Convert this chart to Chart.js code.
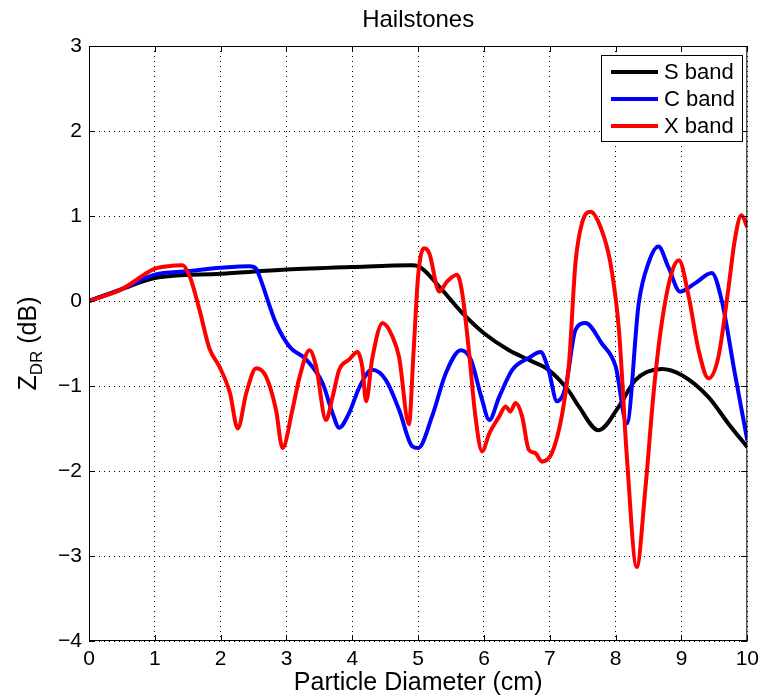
<!DOCTYPE html>
<html>
<head>
<meta charset="utf-8">
<script src="https://cdn.jsdelivr.net/npm/chart.js@4.4.1/dist/chart.umd.min.js"></script>
<style>
  html, body { margin: 0; padding: 0; background: #fff; }
  canvas { display: block; }
</style>
</head>
<body>
<canvas id="zdr" width="765" height="698"></canvas>
<script>
// ===== 資料 =====
const TITLE = 'Hailstones';
const X_LABEL = 'Particle Diameter (cm)';
const LABELS = ['S band', 'C band', 'X band'];
const COLORS = ['#000000', '#0000ff', '#ff0000'];

// S band
const sX = [0, 0.5, 1.0, 2.0, 3.0, 4.0, 4.9, 5.0, 5.32, 5.67, 6.0, 6.38, 6.73, 6.98, 7.29, 7.44, 7.74, 8.05, 8.3, 8.7, 9.0, 9.41, 9.71, 10];
const sY = [0, 0.14, 0.27, 0.32, 0.37, 0.40, 0.42, 0.41, 0.17, -0.14, -0.38, -0.58, -0.71, -0.81, -1.06, -1.24, -1.52, -1.24, -0.93, -0.80, -0.87, -1.13, -1.44, -1.72];

// C band
const cX = [0, 0.5, 1.0, 1.5, 2.0, 2.44, 2.54, 2.59, 2.84, 3.05, 3.3, 3.55, 3.7, 3.8, 3.95, 4.11, 4.3, 4.51, 4.71, 4.91, 5.0, 5.21, 5.42, 5.65, 5.8, 5.97, 6.08, 6.23, 6.43, 6.68, 6.86, 6.98, 7.11, 7.24, 7.39, 7.54, 7.79, 8.0, 8.17, 8.35, 8.5, 8.65, 8.8, 8.98, 9.21, 9.46, 9.61, 9.81, 10];
const cY = [0, 0.14, 0.31, 0.35, 0.39, 0.41, 0.38, 0.29, -0.26, -0.54, -0.69, -0.97, -1.32, -1.49, -1.32, -1.01, -0.81, -0.93, -1.28, -1.71, -1.73, -1.36, -0.85, -0.58, -0.69, -1.16, -1.40, -1.13, -0.81, -0.67, -0.60, -0.81, -1.18, -1.01, -0.34, -0.26, -0.50, -0.77, -1.44, -0.03, 0.45, 0.64, 0.40, 0.11, 0.21, 0.33, 0.01, -0.85, -1.64];

// X band
const xX = [0, 0.5, 1.0, 1.2, 1.42, 1.53, 1.68, 1.83, 1.98, 2.14, 2.26, 2.39, 2.54, 2.69, 2.84, 2.94, 3.09, 3.2, 3.35, 3.45, 3.6, 3.7, 3.8, 3.95, 4.08, 4.15, 4.21, 4.3, 4.46, 4.61, 4.71, 4.86, 4.93, 5.0, 5.09, 5.17, 5.32, 5.44, 5.59, 5.67, 5.77, 5.87, 5.97, 6.08, 6.23, 6.33, 6.4, 6.48, 6.58, 6.68, 6.78, 6.88, 7.03, 7.18, 7.29, 7.39, 7.49, 7.62, 7.77, 7.92, 8.05, 8.17, 8.32, 8.45, 8.58, 8.7, 8.85, 8.96, 9.11, 9.26, 9.41, 9.56, 9.71, 9.81, 9.91, 10];
const xY = [0, 0.14, 0.38, 0.41, 0.42, 0.29, -0.11, -0.56, -0.77, -1.08, -1.50, -1.08, -0.79, -0.89, -1.28, -1.73, -1.28, -0.89, -0.58, -0.77, -1.40, -1.13, -0.81, -0.69, -0.60, -0.77, -1.18, -0.69, -0.26, -0.42, -0.66, -1.45, -0.60, 0.30, 0.62, 0.56, 0.11, 0.23, 0.31, 0.09, -0.58, -1.36, -1.77, -1.56, -1.36, -1.24, -1.30, -1.20, -1.36, -1.75, -1.79, -1.89, -1.79, -1.36, -0.75, 0.45, 0.92, 1.05, 0.87, 0.45, -0.34, -1.83, -3.13, -2.22, -1.05, -0.26, 0.33, 0.48, 0.05, -0.58, -0.91, -0.66, 0.13, 0.72, 1.01, 0.87];

const X_TICKS = [0, 1, 2, 3, 4, 5, 6, 7, 8, 9, 10];
const Y_TICKS = [-4, -3, -2, -1, 0, 1, 2, 3];

// ===== 樣式 =====
const FONT = "'Liberation Sans', Arial, Helvetica, sans-serif";
Chart.defaults.font.family = FONT;
Chart.defaults.color = '#000';

const pts = (xs, ys) => xs.map((x, i) => ({ x, y: ys[i] }));
const mkLine = (xs, ys, i) => ({
  label: LABELS[i], data: pts(xs, ys),
  borderColor: COLORS[i], backgroundColor: COLORS[i],
  borderWidth: 4, pointRadius: 0, fill: false,
  cubicInterpolationMode: 'monotone', order: 3 - i
});

// 外框 + 內側刻度
const boxTicks = {
  id: 'boxTicks',
  afterDatasetsDraw(c) {
    const { ctx, chartArea: { left, right, top, bottom }, scales: { x, y } } = c;
    const L = 6;
    ctx.save();
    ctx.strokeStyle = '#000'; ctx.lineWidth = 1;
    ctx.strokeRect(left + 0.5, top + 0.5, right - left - 1, bottom - top - 1);
    ctx.beginPath();
    X_TICKS.forEach(v => {
      const px = Math.round(x.getPixelForValue(v)) + 0.5;
      ctx.moveTo(px, bottom); ctx.lineTo(px, bottom - L);
      ctx.moveTo(px, top); ctx.lineTo(px, top + L);
    });
    Y_TICKS.forEach(v => {
      const py = Math.round(y.getPixelForValue(v)) + 0.5;
      ctx.moveTo(left, py); ctx.lineTo(left + L, py);
      ctx.moveTo(right, py); ctx.lineTo(right - L, py);
    });
    ctx.stroke();
    ctx.restore();
  }
};

// 標題、y 軸標題（下標）、圖例
const texts = {
  id: 'texts',
  afterDraw(c) {
    const { ctx, chartArea: { left, right, top, bottom } } = c;
    ctx.save();
    ctx.fillStyle = '#000';
    ctx.textBaseline = 'alphabetic';

    // 標題
    ctx.font = `24px ${FONT}`;
    ctx.textAlign = 'center';
    ctx.fillText(TITLE, (left + right) / 2, 27);

    // y 軸標題 Z_DR (dB)
    ctx.translate(36, (top + bottom) / 2);
    ctx.rotate(-Math.PI / 2);
    const big = `25px ${FONT}`, small = `17px ${FONT}`;
    ctx.font = big; const wZ = ctx.measureText('Z').width;
    ctx.font = small; const wS = ctx.measureText('DR').width;
    ctx.font = big; const wT = ctx.measureText(' (dB)').width;
    let cx = -(wZ + wS + wT) / 2;
    ctx.textAlign = 'left';
    ctx.font = big; ctx.fillText('Z', cx, 0); cx += wZ;
    ctx.font = small; ctx.fillText('DR', cx, 6); cx += wS;
    ctx.font = big; ctx.fillText(' (dB)', cx, 0);
    ctx.setTransform(1, 0, 0, 1, 0, 0);

    // 圖例
    const bx = 601, by = 55, bw = 141, bh = 86;
    ctx.fillStyle = '#fff';
    ctx.fillRect(bx, by, bw, bh);
    ctx.strokeStyle = '#000'; ctx.lineWidth = 1;
    ctx.strokeRect(bx + 0.5, by + 0.5, bw, bh);
    ctx.font = `22px ${FONT}`;
    ctx.textAlign = 'left'; ctx.textBaseline = 'middle';
    c.data.datasets.forEach((d, i) => {
      const ry = by + 17 + i * 27;
      ctx.strokeStyle = d.borderColor; ctx.lineWidth = 4;
      ctx.beginPath(); ctx.moveTo(611, ry); ctx.lineTo(658, ry); ctx.stroke();
      ctx.fillStyle = '#000';
      ctx.fillText(d.label, 664, ry + 1);
    });
    ctx.restore();
  }
};

new Chart(document.getElementById('zdr'), {
  type: 'line',
  data: {
    datasets: [mkLine(sX, sY, 0), mkLine(cX, cY, 1), mkLine(xX, xY, 2)]
  },
  options: {
    responsive: false, animation: false, devicePixelRatio: 1,
    layout: { padding: { top: 46, right: 16, left: 0, bottom: 0 } },
    plugins: { legend: { display: false }, tooltip: { enabled: false }, title: { display: false } },
    scales: {
      x: {
        type: 'linear', min: 0, max: 10,
        afterFit: s => { s.height = 57; },
        afterBuildTicks: s => { s.ticks = X_TICKS.map(v => ({ value: v })); },
        ticks: { font: { size: 21 }, padding: 6, maxRotation: 0, color: '#000' },
        grid: { color: '#000', lineWidth: 1, drawTicks: false },
        border: { display: false, dash: [1, 4] },
        title: {
          display: true, text: X_LABEL, font: { size: 25 }, padding: { top: 0, bottom: 0 }, color: '#000'
        }
      },
      y: {
        type: 'linear', min: -4, max: 3,
        afterFit: s => { s.width = 89; },
        afterBuildTicks: s => { s.ticks = Y_TICKS.map(v => ({ value: v })); },
        ticks: { font: { size: 21 }, padding: 7, color: '#000', callback: v => String(v).replace('-', '\u2212') },
        grid: { color: '#000', lineWidth: 1, drawTicks: false },
        border: { display: false, dash: [1, 4] }
      }
    }
  },
  plugins: [boxTicks, texts]
});
</script>
</body>
</html>
